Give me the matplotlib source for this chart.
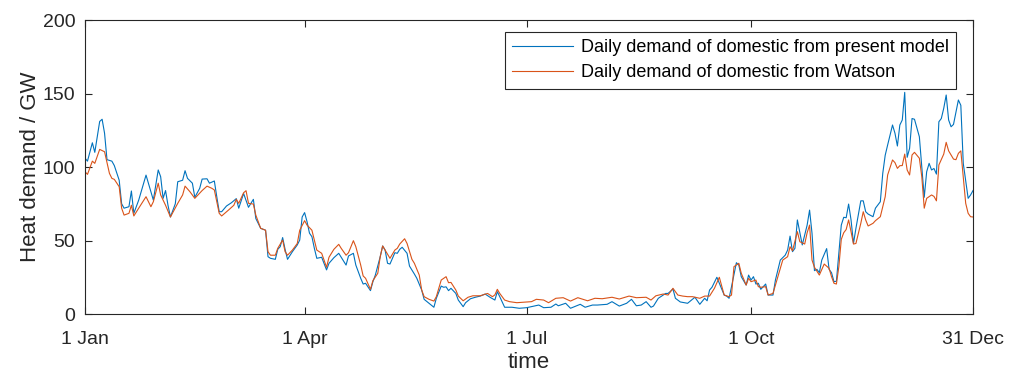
import matplotlib

matplotlib.use("Agg")
import matplotlib.pyplot as plt

plt.rcParams["font.family"] = ["Liberation Sans", "DejaVu Sans"]

# day of year (0 = 1 Jan) and daily demand in GW
model_day = [0, 1, 3, 4, 6, 7, 8, 9, 11, 12, 14, 15, 16, 18, 19, 20, 22, 25, 27, 28, 30, 31, 32, 33, 34, 35,
             37, 38, 40, 41, 42, 44, 45, 47, 48, 50, 51, 53, 54, 55, 56, 58, 60, 62, 63, 65, 67, 69, 70, 72,
             74, 75, 76, 78, 79, 80, 81, 82, 83, 85, 87, 88, 89, 90, 91, 92, 93, 94, 95, 97, 99, 100, 102,
             104, 107, 108, 110, 111, 113, 114, 115, 117, 118, 119, 121, 122, 123, 124, 125, 127, 128, 129,
             130, 132, 133, 135, 136, 138, 139, 141, 143, 144, 146, 147, 148, 149, 150, 152, 153, 155, 156,
             158, 160, 162, 164, 166, 168, 169, 170, 172, 175, 178, 181, 184, 186, 188, 191, 193, 194, 197,
             199, 203, 205, 208, 210, 214, 216, 219, 222, 224, 226, 228, 230, 232, 233, 235, 238, 239, 241,
             242, 244, 247, 250, 252, 254, 255, 256, 257, 259, 262, 263, 264, 265, 267, 268, 269, 271, 272,
             273, 274, 275, 276, 277, 279, 280, 282, 283, 285, 287, 288, 289, 290, 291, 292, 293, 294, 296,
             297, 298, 299, 300, 301, 302, 304, 305, 306, 307, 308, 309, 310, 311, 312, 313, 314, 315, 316,
             318, 319, 320, 321, 323, 324, 326, 327, 328, 329, 331, 332, 333, 334, 335, 336, 337, 338, 339,
             340, 342, 343, 344, 345, 346, 347, 348, 349, 350, 351, 352, 353, 354, 355, 356, 358, 359, 360,
             362, 363, 364]
model_gw = [106, 104, 116.5, 110, 131, 132.5, 123, 105, 104, 101, 91, 75, 72, 73, 83.7, 68.5, 77.5, 94.5, 83,
            77.5, 98, 93.4, 78.7, 84, 74, 66, 75, 90, 91, 97.5, 92.3, 89, 79.4, 85.5, 91.8, 92, 89, 90.5,
            79.8, 69.6, 69.6, 73.5, 75.7, 78.5, 72, 82, 72.6, 78, 65, 58.3, 57, 39, 37.9, 37.2, 44, 45.8,
            52, 44, 37.2, 42.4, 47, 50.3, 66, 69, 62.8, 55, 52.6, 44.7, 37.9, 38.6, 30, 34.5, 38.3, 41.3,
            33.3, 39.5, 41.3, 33.3, 24.3, 20.4, 20.9, 15.9, 22, 26.5, 39, 46.3, 43.5, 34.5, 34, 41.7, 41.3,
            44, 45.4, 41.3, 32.6, 27.2, 24.3, 16.3, 10, 7.3, 4.6, 10.7, 19, 18.2, 18.5, 15.9, 17.5, 14, 9.5,
            5, 7.7, 10.4, 11.4, 12.2, 13.6, 11.4, 9.5, 15.2, 11.8, 4.6, 4.6, 3.9, 4.3, 5.4, 6.1, 4.3, 4.6,
            6.8, 5.6, 7.3, 3.9, 6.6, 4.6, 6.1, 6.1, 6.6, 8.4, 5.4, 7.3, 10, 5.6, 6.1, 8.4, 4.6, 5.4, 10.7,
            14, 14, 17, 10.7, 8.2, 7.3, 11.4, 6.6, 10.7, 9, 16.3, 18.2, 25, 12.9, 12.2, 10.7, 18.6, 34.9,
            33.3, 25.4, 19.7, 26.5, 23.1, 25.4, 20.4, 20.9, 16.8, 20.4, 12.9, 12.9, 23.1, 36.7, 40, 43.5,
            53, 42.4, 44.7, 64, 55.3, 47, 60.5, 70.7, 54.9, 29.5, 30.4, 28.1, 36.7, 44.5, 30.4, 28.1, 22,
            22.3, 41.3, 60.5, 65.8, 65.5, 74.8, 64, 48, 58.3, 77, 77, 69.6, 68, 66.2, 72, 76.4, 95.7, 108,
            115, 128.6, 123, 114.3, 128.6, 132, 150.8, 106.6, 112.7, 133, 132.5, 120.6, 100.2, 79.4, 96.8,
            102.5, 98, 99, 95.2, 130.8, 133, 140, 149, 132, 127.4, 129, 145.6, 142, 102.5, 78.7, 81, 84]

watson_day = [0, 1, 3, 4, 6, 8, 10, 11, 12, 14, 15, 16, 18, 19, 20, 22, 25, 27, 28, 30, 31, 33, 35, 38, 40,
              41, 43, 45, 48, 50, 52, 53, 55, 56, 59, 61, 62, 63, 65, 66, 67, 69, 70, 72, 74, 75, 76, 78,
              79, 81, 82, 83, 85, 87, 88, 90, 91, 93, 94, 95, 97, 99, 100, 102, 104, 105, 107, 108, 110,
              111, 113, 114, 115, 117, 118, 120, 121, 122, 123, 125, 127, 128, 129, 131, 132, 134, 135, 137,
              138, 139, 141, 143, 144, 146, 148, 149, 150, 152, 153, 155, 157, 159, 162, 165, 167, 168, 169,
              170, 172, 174, 177, 181, 183, 185, 188, 190, 193, 196, 199, 202, 206, 209, 212, 216, 219, 223,
              226, 230, 232, 234, 237, 239, 241, 243, 245, 247, 249, 252, 254, 256, 258, 260, 262, 264, 265,
              266, 268, 269, 271, 272, 273, 275, 276, 277, 279, 280, 282, 284, 286, 288, 289, 290, 292, 293,
              295, 296, 297, 298, 299, 301, 303, 305, 306, 307, 308, 309, 310, 311, 312, 313, 314, 315, 316,
              318, 319, 320, 321, 323, 324, 326, 328, 329, 331, 332, 333, 334, 335, 336, 337, 338, 339, 340,
              342, 343, 344, 345, 347, 348, 349, 350, 352, 353, 354, 356, 357, 358, 359, 360, 361, 362, 363,
              364]
watson_gw = [96.8, 95, 104, 102.5, 112, 110.4, 95.7, 92.3, 91.6, 86.6, 72, 67.3, 68.5, 74, 66.7, 72, 79.8,
             73, 76.4, 89, 81, 74, 66, 75.3, 81, 87, 83.2, 78.7, 84, 87, 85.5, 84.4, 68.5, 66.7, 71, 74, 78,
             75.3, 82.5, 83.9, 75.3, 74.8, 67.3, 58.3, 57, 42.4, 40, 40, 44.7, 50.3, 42.4, 40, 43.5, 48, 57,
             63.5, 60.5, 57, 50.3, 43.5, 41.3, 31.8, 38.6, 44, 47.4, 44.7, 40, 41.7, 49.9, 45.8, 33.3, 25.9,
             24.3, 16.8, 22.7, 27.7, 39, 46.3, 43.5, 37.9, 43.5, 44.7, 47.6, 51.2, 48, 37.2, 34.5, 26.5,
             16.3, 11.8, 10, 8.8, 11.8, 23.1, 25.4, 21.3, 21.5, 16.3, 12.2, 9, 11.4, 12.4, 12.4, 14, 11.8,
             13, 16.8, 14, 9.5, 8.4, 7.7, 8.2, 8.4, 10, 9.5, 7.7, 10.7, 11.1, 8.8, 11.1, 9, 10.7, 10.4,
             11.4, 10.2, 12.2, 11.1, 11.4, 9.5, 12.4, 13.6, 12.9, 17.5, 12.9, 12.2, 11.8, 11.8, 10.7, 12.2,
             12.2, 17.5, 25, 12.9, 11.8, 12.9, 32.2, 34.5, 27.7, 19.7, 24.3, 22, 23.1, 18.6, 18.2, 18.6,
             12.9, 14, 25.4, 36.7, 39, 45.8, 43, 56, 49.2, 47.6, 55.3, 60.5, 36.7, 31.8, 26.5, 34, 31.1,
             25.4, 20.9, 20.4, 32.2, 50.8, 55.3, 57.5, 64, 56, 47.6, 48, 61.7, 69.6, 64, 59.9, 61.7, 63.5,
             66.2, 79.8, 94.6, 104.8, 103, 99.1, 100.9, 101, 108.8, 98, 94.6, 108.2, 110, 106, 93.4, 72,
             78.7, 81, 80, 77, 101.4, 108.8, 116.8, 111, 105.4, 105, 109.3, 111, 93.4, 75.3, 68.5, 66.2, 66]

tick_days = [0, 90, 181, 273, 364]
tick_labels = ["1 Jan", "1 Apr", "1 Jul", "1 Oct", "31 Dec"]


def main() -> None:
    fig = plt.figure(figsize=(10.16, 3.74), dpi=100)
    ax = fig.add_axes([0.0837, 0.1604, 0.874, 0.786])
    ax.plot(model_day, model_gw, color="#0072BD", lw=0.8,
            label="Daily demand of domestic from present model")
    ax.plot(watson_day, watson_gw, color="#D95319", lw=0.8,
            label="Daily demand of domestic from Watson")
    ax.set_xlim(0, 364)
    ax.set_ylim(0, 200)
    ax.set_xticks(tick_days, tick_labels)
    ax.set_yticks([0, 50, 100, 150, 200])
    ax.tick_params(direction="in", top=True, right=True, length=5, width=0.8,
                   labelsize=14, colors="#262626")
    ax.tick_params(axis="x", pad=12)
    ax.tick_params(axis="y", pad=7)
    for spine in ax.spines.values():
        spine.set_color("#262626")
        spine.set_linewidth(0.8)
    ax.set_xlabel("time", fontsize=16, color="#262626", labelpad=3)
    ax.set_ylabel("Heat demand / GW", fontsize=16, color="#262626", labelpad=1)
    leg = ax.legend(loc="upper right", bbox_to_anchor=(0.981, 0.959), borderaxespad=0,
                    fontsize=13, handlelength=3.35, fancybox=False, framealpha=1,
                    edgecolor="#262626", borderpad=0.4, labelspacing=0.45, handletextpad=0.45)
    leg.get_frame().set_linewidth(0.8)
    fig.savefig("out.png", dpi=100)
    plt.close(fig)


if __name__ == "__main__":
    main()
